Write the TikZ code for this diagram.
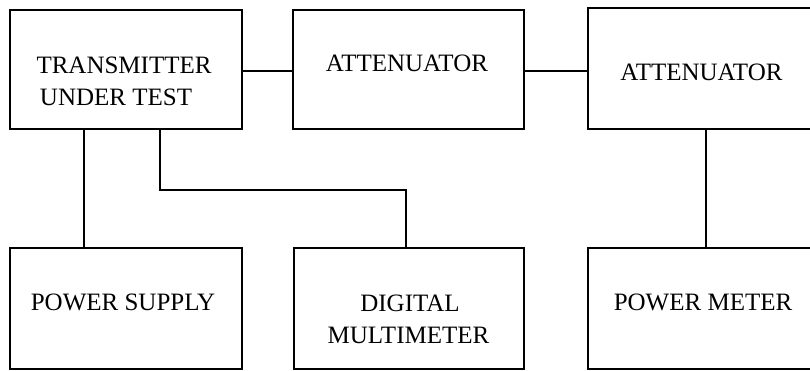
\documentclass[tikz,border=0pt]{standalone}
\usepackage{fontspec}
\setmainfont{Liberation Serif}
\begin{document}
\begin{tikzpicture}[x=1pt,y=-1pt,
  box/.style={draw,line width=1.3pt,inner sep=0pt,minimum width=231pt,minimum height=120pt},
  txt/.style={anchor=base,inner sep=0pt,font=\fontsize{25}{32}\selectfont},
  wire/.style={line width=1.3pt}]
\useasboundingbox (0,0) rectangle (810,370);
% boxes
\node[box,minimum width=232pt,minimum height=119pt] (tx) at (126,69.5) {};
\node[box,minimum height=119pt] (att1) at (408.5,69.5) {};
\node[box,minimum width=230pt,minimum height=121pt] (att2) at (703,68.5) {};
\node[box,minimum width=232pt,minimum height=121pt] (ps) at (126,308.5) {};
\node[box,minimum width=230pt,minimum height=121pt] (dmm) at (409,308.5) {};
\node[box,minimum width=230pt,minimum height=121pt] (pm) at (703,308.5) {};
% texts
\node[txt] (t1a) at (124,73) {TRANSMITTER};
\node[txt] (t1b) at (116,105) {UNDER TEST};
\node[txt] (t2) at (407,71) {ATTENUATOR};
\node[txt] (t3) at (701.5,80) {ATTENUATOR};
\node[txt] (t4) at (123,310) {POWER SUPPLY};
\node[txt] (t5a) at (410,311) {DIGITAL};
\node[txt] (t5b) at (408.5,343) {MULTIMETER};
\node[txt] (t6) at (703,310) {POWER METER};
% connectors
\draw[wire] ([yshift=-1.5pt]tx.east) -- ([yshift=-1.5pt]att1.west);
\draw[wire] ([yshift=-1.5pt]att1.east) -- ([yshift=-1.5pt]att1.east -| att2.west);
\draw[wire] ([xshift=3pt]att2.south) -- ([xshift=3pt]pm.north);
\draw[wire] ([xshift=-42pt]tx.south) -- ([xshift=-42pt]ps.north);
\coordinate (bend) at (406,190);
\draw[wire] ([xshift=34pt]tx.south) |- (bend) -- (bend |- dmm.north);
\end{tikzpicture}
\end{document}
